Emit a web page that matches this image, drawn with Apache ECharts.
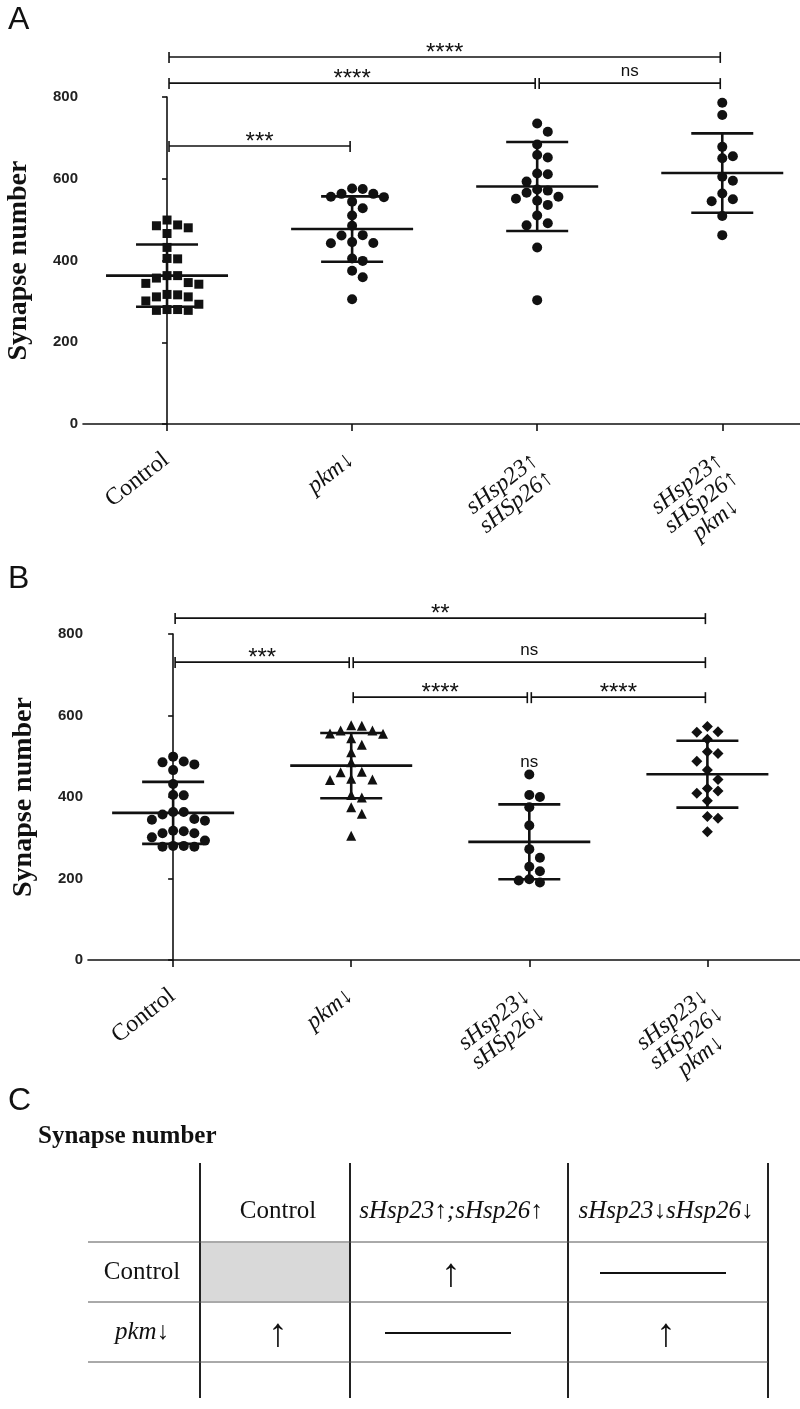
<!DOCTYPE html>
<html><head><meta charset="utf-8">
<script src="https://cdn.jsdelivr.net/npm/echarts@6/dist/echarts.min.js"></script>
<style>html,body{margin:0;padding:0;background:#fff}#c{width:800px;height:1409px}</style>
</head><body><div id="c"></div>
<script>
// ---------- data ----------
const yTicks = [0, 200, 400, 600, 800];
const labelsA = [['Control'], ['pkm↓'], ['sHsp23↑', 'sHSp26↑'], ['sHsp23↑', 'sHSp26↑', 'pkm↓']];
const labelsB = [['Control'], ['pkm↓'], ['sHsp23↓', 'sHSp26↓'], ['sHsp23↓', 'sHSp26↓', 'pkm↓']];

const control = [499, 487, 485, 480, 466, 432, 405, 404, 363, 363, 357, 344, 342, 346, 317, 311, 311, 316, 301, 293, 280, 278, 278, 280];
const pkm = [575, 576, 556, 563, 563, 555, 544, 528, 510, 485, 461, 462, 443, 442, 445, 399, 405, 375, 359, 305];
const hspUp = [735, 715, 684, 652, 658, 613, 611, 593, 574, 566, 571, 551, 556, 546, 536, 510, 486, 491, 432, 303];
const hspUpPkm = [786, 756, 678, 650, 655, 605, 595, 564, 545, 550, 509, 462];
const hspDown = [455, 405, 400, 375, 330, 272, 251, 229, 218, 198, 190, 195];
const hspDownPkm = [560, 559, 573, 542, 511, 507, 488, 466, 443, 415, 421, 409, 391, 352, 348, 315];

const meanA = [363, 477, 581, 614];
const sdA = [76, 80, 109, 97];
const meanB = [361, 477, 290, 456];
const sdB = [76, 80, 92, 82];

const sigA = [[0, 3, 898, '****'], [0, 2, 834, '****'], [2, 3, 834, 'ns'], [0, 1, 680, '***']];
const sigB = [[0, 3, 839, '**'], [0, 1, 731, '***'], [1, 3, 731, 'ns'], [1, 2, 645, '****'], [2, 3, 645, '****']];
const noteB = [[2, 466, 'ns']];

const tableTitle = 'Synapse number';
const tableCols = ['Control', 'sHsp23↑;sHsp26↑', 'sHsp23↓sHsp26↓'];
const tableRows = ['Control', 'pkm↓'];
const tableCells = [['shade', '↑', '—'], ['↑', '—', '↑']];

// ---------- helpers ----------
const INK = '#111';
const SERIF = '"Liberation Serif", "Times New Roman", serif';
const SANS = '"Liberation Sans", Arial, sans-serif';

function swarm(values, gi, pxPerVal, stepUnits, diam) {
  const placed = [];
  const out = [];
  values.slice().sort((a, b) => b - a).forEach(v => {
    const y = v * pxPerVal;
    let c = 0;
    for (let k = 0; k < 30; k++) {
      const cand = k === 0 ? 0 : (k % 2 ? Math.ceil(k / 2) : -k / 2);
      if (!placed.some(p => p.c === cand && Math.abs(p.y - y) < diam)) { c = cand; break; }
    }
    placed.push({ y, c });
    out.push([gi + c * stepUnits, v]);
  });
  return out;
}

function errSeries(means, sds, xi, yi) {
  return {
    type: 'custom', xAxisIndex: xi, yAxisIndex: yi, clip: false, z: 3,
    data: means.map((m, i) => [i, m, sds[i]]),
    renderItem: (params, api) => {
      const i = api.value(0), m = api.value(1), s = api.value(2);
      const pm = api.coord([i, m]), pu = api.coord([i, m + s]), pl = api.coord([i, m - s]);
      const st = { stroke: INK, lineWidth: 2.6 };
      return { type: 'group', children: [
        { type: 'line', shape: { x1: pm[0] - 61, y1: pm[1], x2: pm[0] + 61, y2: pm[1] }, style: st },
        { type: 'line', shape: { x1: pu[0] - 31, y1: pu[1], x2: pu[0] + 31, y2: pu[1] }, style: st },
        { type: 'line', shape: { x1: pl[0] - 31, y1: pl[1], x2: pl[0] + 31, y2: pl[1] }, style: st },
        { type: 'line', shape: { x1: pu[0], y1: pu[1], x2: pl[0], y2: pl[1] }, style: st }
      ] };
    }
  };
}

function sigText(txt, x, barY) {
  const star = txt.indexOf('*') >= 0;
  return { type: 'text', style: { text: txt, x: x, y: star ? barY - 4 : barY - 12,
    align: 'center', verticalAlign: 'middle', font: (star ? '24px ' : '17px ') + SANS, fill: INK } };
}

function sigSeries(sig, xi, yi) {
  return {
    type: 'custom', xAxisIndex: xi, yAxisIndex: yi, clip: false, z: 4,
    data: sig.map(s => [s[0], s[2], s[1]]),
    renderItem: (params, api) => {
      const a = api.coord([api.value(0), api.value(1)]);
      const b = api.coord([api.value(2), api.value(1)]);
      const x1 = a[0] + 2, x2 = b[0] - 2, y = a[1];
      const st = { stroke: INK, lineWidth: 1.6, fill: null };
      return { type: 'group', children: [
        { type: 'line', shape: { x1: x1, y1: y - 5, x2: x1, y2: y + 6 }, style: st },
        { type: 'line', shape: { x1: x2, y1: y - 5, x2: x2, y2: y + 6 }, style: st },
        { type: 'line', shape: { x1: x1, y1: y, x2: x2, y2: y }, style: st },
        sigText(sig[params.dataIndex][3], (x1 + x2) / 2, y)
      ] };
    }
  };
}

function noteSeries(notes, xi, yi) {
  return {
    type: 'custom', xAxisIndex: xi, yAxisIndex: yi, clip: false, z: 4,
    data: notes.map(n => [n[0], n[1]]),
    renderItem: (params, api) => {
      const p = api.coord([api.value(0), api.value(1)]);
      return sigText(notes[params.dataIndex][2], p[0], p[1] + 4);
    }
  };
}

function fmtLabel(lines) {
  return lines.map(l => (l === 'Control' ? '{n|' + l + '}' : '{i|' + l + '}')).join('\n');
}

function xAxisDef(gi, min, max, labels) {
  return {
    type: 'value', gridIndex: gi, min: min, max: max,
    splitLine: { show: false },
    axisLine: { show: true, onZero: false, lineStyle: { color: INK, width: 1.6 } },
    axisTick: { show: true, customValues: [0, 1, 2, 3], length: 7, lineStyle: { color: INK, width: 1.6 } },
    axisLabel: {
      show: true, customValues: [0, 1, 2, 3], rotate: 38, margin: 18,
      align: 'right', verticalAlign: 'top', padding: [0, 10, 0, 0],
      formatter: v => fmtLabel(labels[Math.round(v)]),
      rich: {
        n: { fontFamily: SERIF, fontSize: 24, lineHeight: 23, color: INK, align: 'center' },
        i: { fontFamily: SERIF, fontSize: 24, lineHeight: 23, fontStyle: 'italic', color: INK, align: 'center' }
      }
    }
  };
}

function yAxisDef(gi) {
  return {
    type: 'value', gridIndex: gi, min: yTicks[0], max: yTicks[yTicks.length - 1], interval: 200,
    name: 'Synapse number', nameLocation: 'middle', nameGap: 50, nameRotate: 90,
    nameTextStyle: { fontFamily: SERIF, fontWeight: 'bold', fontSize: 28, color: INK },
    splitLine: { show: false },
    axisLine: { show: true, lineStyle: { color: INK, width: 1.6 } },
    axisTick: { show: true, length: 5, lineStyle: { color: INK, width: 1.6 } },
    axisLabel: { fontFamily: SANS, fontWeight: 'bold', fontSize: 15, color: '#222', margin: 5 }
  };
}

const pxA = 327 / 800, pxB = 326 / 800;
const stepA = 10.6 / 185, stepB = 10.6 / 178;

function dots(vals, gi, xi, symbol, size, px, step) {
  return {
    type: 'scatter', xAxisIndex: xi, yAxisIndex: xi, symbol: symbol, symbolSize: size, z: 5,
    itemStyle: { color: INK, opacity: 1 }, silent: true,
    data: swarm(vals, gi, px, step, 10)
  };
}

// ---------- table graphics ----------
const tbl = { vx: [200, 350, 568, 768], hy: [1242, 1302, 1362], top: 1163, bottom: 1398, left: 88,
  headY: 1211, rowY: [1272, 1332], rowLabelX: 142 };
const colCenters = [278, 451, 666];
const graphics = [
  { type: 'text', left: 8, top: 4, style: { text: 'A', font: '32px ' + SANS, fill: INK } },
  { type: 'text', left: 8, top: 563, style: { text: 'B', font: '32px ' + SANS, fill: INK } },
  { type: 'text', left: 8, top: 1085, style: { text: 'C', font: '32px ' + SANS, fill: INK } },
  { type: 'text', left: 38, top: 1124, style: { text: tableTitle, font: 'bold 25px ' + SERIF, fill: INK } }
];
tableCells.forEach((row, r) => row.forEach((cell, c) => {
  const cx = colCenters[c], cy = tbl.rowY[r];
  if (cell === 'shade') {
    graphics.push({ type: 'rect', shape: { x: tbl.vx[c] + 1, y: tbl.hy[r] + 1, width: tbl.vx[c + 1] - tbl.vx[c] - 2, height: tbl.hy[r + 1] - tbl.hy[r] - 2 }, style: { fill: '#d9d9d9' } });
  } else if (cell === '—') {
    graphics.push({ type: 'line', shape: { x1: cx - 66, y1: cy + 1, x2: cx + 60, y2: cy + 1 }, style: { stroke: INK, lineWidth: 2 } });
  } else {
    graphics.push({ type: 'text', x: cx, y: cy + 3, style: { text: cell, font: '40px ' + SERIF, fill: INK, align: 'center', verticalAlign: 'middle' } });
  }
}));
tbl.vx.forEach(x => graphics.push({ type: 'line', shape: { x1: x, y1: tbl.top, x2: x, y2: tbl.bottom }, style: { stroke: '#222', lineWidth: 2 } }));
tbl.hy.forEach(y => graphics.push({ type: 'line', shape: { x1: tbl.left, y1: y, x2: tbl.vx[3], y2: y }, style: { stroke: '#555', lineWidth: 1 } }));
tableCols.forEach((t, c) => graphics.push({ type: 'text', x: colCenters[c], y: tbl.headY,
  style: { text: t, font: (c === 0 ? '' : 'italic ') + '25px ' + SERIF, fill: INK, align: 'center', verticalAlign: 'middle' } }));
tableRows.forEach((t, r) => graphics.push({ type: 'text', x: tbl.rowLabelX, y: tbl.rowY[r],
  style: { text: t, font: (r === 0 ? '' : 'italic ') + '25px ' + SERIF, fill: INK, align: 'center', verticalAlign: 'middle' } }));

// ---------- chart ----------
const chart = echarts.init(document.getElementById('c'), null, { renderer: 'canvas' });
chart.setOption({
  backgroundColor: '#fff',
  animation: false,
  grid: [
    { left: 83, top: 97, width: 717, height: 327, outerBoundsMode: 'none', containLabel: false },
    { left: 88, top: 634, width: 712, height: 326, outerBoundsMode: 'none', containLabel: false }
  ],
  xAxis: [xAxisDef(0, -0.454, 3.42, labelsA), xAxisDef(1, -0.478, 3.52, labelsB)],
  yAxis: [yAxisDef(0), yAxisDef(1)],
  series: [
    dots(control, 0, 0, 'rect', 9, pxA, stepA),
    dots(pkm, 1, 0, 'circle', 10, pxA, stepA),
    dots(hspUp, 2, 0, 'circle', 10, pxA, stepA),
    dots(hspUpPkm, 3, 0, 'circle', 10, pxA, stepA),
    errSeries(meanA, sdA, 0, 0),
    sigSeries(sigA, 0, 0),
    dots(control, 0, 1, 'circle', 10, pxB, stepB),
    dots(pkm, 1, 1, 'triangle', 10, pxB, stepB),
    dots(hspDown, 2, 1, 'circle', 10, pxB, stepB),
    dots(hspDownPkm, 3, 1, 'diamond', 11, pxB, stepB),
    errSeries(meanB, sdB, 1, 1),
    sigSeries(sigB, 1, 1),
    noteSeries(noteB, 1, 1)
  ],
  graphic: graphics
});
</script></body></html>
